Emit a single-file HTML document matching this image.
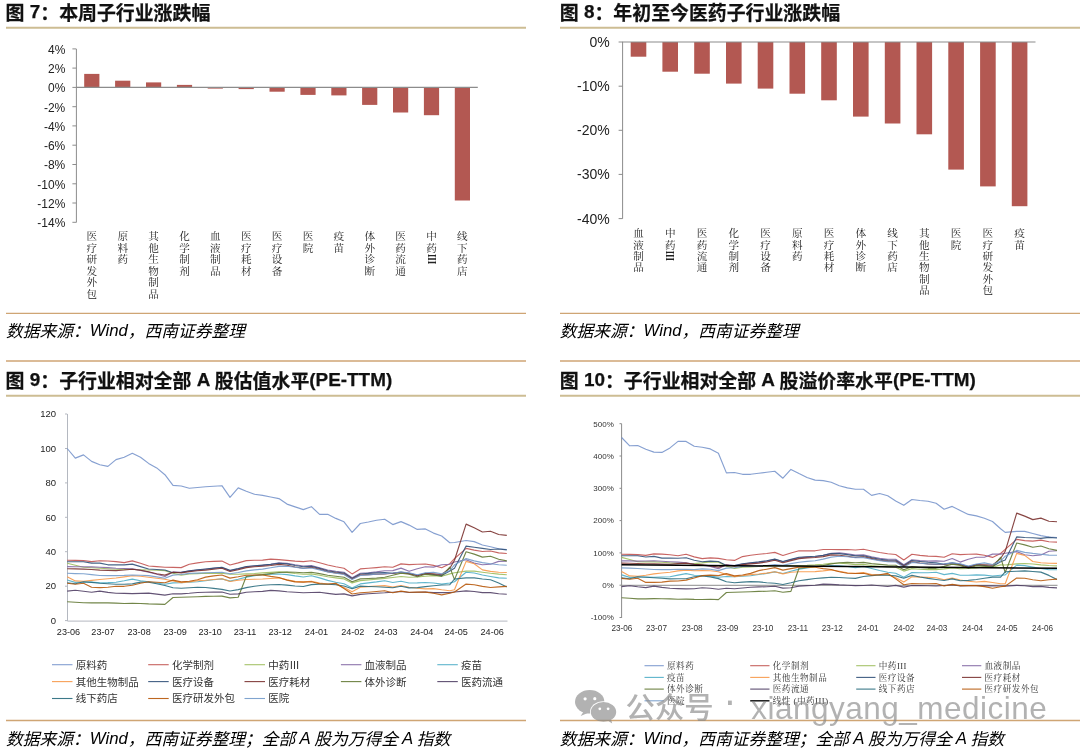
<!DOCTYPE html>
<html lang="zh-CN">
<head>
<meta charset="utf-8">
<title>医药子行业涨跌幅与估值</title>
<style>
html,body{margin:0;padding:0;background:#fff;}
body{width:1080px;height:751px;overflow:hidden;position:relative;font-family:"Liberation Sans","Noto Sans CJK SC",sans-serif;color:#000;}
#page{position:absolute;left:0;top:0;width:1080px;height:751px;overflow:hidden;background:#fff;}
.fig{position:absolute;margin:0;}
.title{position:absolute;margin:0;white-space:nowrap;font-weight:bold;-webkit-text-stroke:0.25px #111;font-size:18.9px;line-height:24px;color:#111;letter-spacing:0;}
.source{position:absolute;margin:0;white-space:nowrap;font-style:italic;font-size:16.75px;line-height:22px;color:#000;font-weight:400;}
.title .l{position:relative;top:-1.4px;}
.source .l{position:relative;top:-1px;}
svg{position:absolute;left:0;top:0;overflow:visible;will-change:transform;}
.fig{will-change:transform;}
svg text{font-family:"Liberation Sans","Noto Sans CJK SC",sans-serif;}
svg .kai{font-family:"Liberation Serif","Noto Serif CJK SC",serif;}
</style>
</head>
<body>
<div id="page">

<section class="fig" id="fig7">
<h2 class="title" style="left:5.6px;top:1.6px">图 <span class="l">7</span>：本周子行业涨跌幅</h2>
<p class="source" style="left:6px;top:320.8px">数据来源：<span class="l">Wind</span>，西南证券整理</p>
</section>
<section class="fig" id="fig8">
<h2 class="title" style="left:559.8px;top:1.6px">图 <span class="l">8</span>：年初至今医药子行业涨跌幅</h2>
<p class="source" style="left:559.8px;top:320.8px">数据来源：<span class="l">Wind</span>，西南证券整理</p>
</section>
<section class="fig" id="fig9">
<h2 class="title" style="left:5.6px;top:369.7px">图 <span class="l">9</span>：子行业相对全部 <span class="l">A</span> 股估值水平<span class="l">(PE-TTM)</span></h2>
<p class="source" style="left:6px;top:729.0px;word-spacing:-0.5px">数据来源：<span class="l">Wind</span>，西南证券整理；全部 <span class="l">A</span> 股为万得全 <span class="l">A</span> 指数</p>
</section>
<section class="fig" id="fig10">
<h2 class="title" style="left:559.8px;top:369.7px">图 <span class="l">10</span>：子行业相对全部 <span class="l">A</span> 股溢价率水平<span class="l">(PE-TTM)</span></h2>
<p class="source" style="left:559.8px;top:729.0px;word-spacing:-0.5px">数据来源：<span class="l">Wind</span>，西南证券整理；全部 <span class="l">A</span> 股为万得全 <span class="l">A</span> 指数</p>
</section>
<svg width="1080" height="751" viewBox="0 0 1080 751">
<g id="rules">
<path d="M6 27.8h520" stroke="#cdbd93" stroke-width="1.9"/>
<path d="M6 313.3h520" stroke="#cfa574" stroke-width="1.3"/>
<path d="M560 27.8h520" stroke="#cdbd93" stroke-width="1.9"/>
<path d="M560 313.3h520" stroke="#cfa574" stroke-width="1.3"/>
<path d="M6 361.0h520" stroke="#cfa574" stroke-width="1.3"/>
<path d="M6 395.7h520" stroke="#cdbd93" stroke-width="1.9"/>
<path d="M6 720.5h520" stroke="#cfa574" stroke-width="1.3"/>
<path d="M560 361.0h520" stroke="#cfa574" stroke-width="1.3"/>
<path d="M560 395.7h520" stroke="#cdbd93" stroke-width="1.9"/>
<path d="M560 720.5h520" stroke="#cfa574" stroke-width="1.3"/>
</g>
<g id="chart7">
<path d="M76.4 49V222.4" stroke="#8c8c8c" stroke-width="1" fill="none"/>
<path d="M72.4 48.9H76.4M72.4 68.1H76.4M72.4 87.4H76.4M72.4 106.7H76.4M72.4 125.9H76.4M72.4 145.2H76.4M72.4 164.5H76.4M72.4 183.8H76.4M72.4 203H76.4M72.4 222.3H76.4" stroke="#8c8c8c" stroke-width="1" fill="none"/>
<text x="65.3" y="53.8" font-size="12" text-anchor="end" fill="#222">4%</text>
<text x="65.3" y="73" font-size="12" text-anchor="end" fill="#222">2%</text>
<text x="65.3" y="92.3" font-size="12" text-anchor="end" fill="#222">0%</text>
<text x="65.3" y="111.6" font-size="12" text-anchor="end" fill="#222">-2%</text>
<text x="65.3" y="130.8" font-size="12" text-anchor="end" fill="#222">-4%</text>
<text x="65.3" y="150.1" font-size="12" text-anchor="end" fill="#222">-6%</text>
<text x="65.3" y="169.4" font-size="12" text-anchor="end" fill="#222">-8%</text>
<text x="65.3" y="188.7" font-size="12" text-anchor="end" fill="#222">-10%</text>
<text x="65.3" y="207.9" font-size="12" text-anchor="end" fill="#222">-12%</text>
<text x="65.3" y="227.2" font-size="12" text-anchor="end" fill="#222">-14%</text>
<rect x="84.2" y="73.9" width="15.2" height="13.5" fill="#b35852"/>
<rect x="115.1" y="80.7" width="15.2" height="6.7" fill="#b35852"/>
<rect x="146" y="82.4" width="15.2" height="5" fill="#b35852"/>
<rect x="176.9" y="84.9" width="15.2" height="2.5" fill="#b35852"/>
<rect x="207.7" y="87.4" width="15.2" height="1.2" fill="#b35852"/>
<rect x="238.6" y="87.4" width="15.2" height="1.7" fill="#b35852"/>
<rect x="269.5" y="87.4" width="15.2" height="4.3" fill="#b35852"/>
<rect x="300.4" y="87.4" width="15.2" height="7.5" fill="#b35852"/>
<rect x="331.3" y="87.4" width="15.2" height="8" fill="#b35852"/>
<rect x="362.1" y="87.4" width="15.2" height="17.5" fill="#b35852"/>
<rect x="393" y="87.4" width="15.2" height="25.1" fill="#b35852"/>
<rect x="423.9" y="87.4" width="15.2" height="27.8" fill="#b35852"/>
<rect x="454.8" y="87.4" width="15.2" height="113.1" fill="#b35852"/>
<path d="M75.9 87.4H477.8" stroke="#8c8c8c" stroke-width="1.2" fill="none"/>
<g><text class="kai" font-size="10.6" fill="#222" text-anchor="middle" x="91.8" y="240.1">医</text><text class="kai" font-size="10.6" fill="#222" text-anchor="middle" x="91.8" y="251.6">疗</text><text class="kai" font-size="10.6" fill="#222" text-anchor="middle" x="91.8" y="263.1">研</text><text class="kai" font-size="10.6" fill="#222" text-anchor="middle" x="91.8" y="274.6">发</text><text class="kai" font-size="10.6" fill="#222" text-anchor="middle" x="91.8" y="286.1">外</text><text class="kai" font-size="10.6" fill="#222" text-anchor="middle" x="91.8" y="297.6">包</text></g>
<g><text class="kai" font-size="10.6" fill="#222" text-anchor="middle" x="122.7" y="240.1">原</text><text class="kai" font-size="10.6" fill="#222" text-anchor="middle" x="122.7" y="251.6">料</text><text class="kai" font-size="10.6" fill="#222" text-anchor="middle" x="122.7" y="263.1">药</text></g>
<g><text class="kai" font-size="10.6" fill="#222" text-anchor="middle" x="153.6" y="240.1">其</text><text class="kai" font-size="10.6" fill="#222" text-anchor="middle" x="153.6" y="251.6">他</text><text class="kai" font-size="10.6" fill="#222" text-anchor="middle" x="153.6" y="263.1">生</text><text class="kai" font-size="10.6" fill="#222" text-anchor="middle" x="153.6" y="274.6">物</text><text class="kai" font-size="10.6" fill="#222" text-anchor="middle" x="153.6" y="286.1">制</text><text class="kai" font-size="10.6" fill="#222" text-anchor="middle" x="153.6" y="297.6">品</text></g>
<g><text class="kai" font-size="10.6" fill="#222" text-anchor="middle" x="184.5" y="240.1">化</text><text class="kai" font-size="10.6" fill="#222" text-anchor="middle" x="184.5" y="251.6">学</text><text class="kai" font-size="10.6" fill="#222" text-anchor="middle" x="184.5" y="263.1">制</text><text class="kai" font-size="10.6" fill="#222" text-anchor="middle" x="184.5" y="274.6">剂</text></g>
<g><text class="kai" font-size="10.6" fill="#222" text-anchor="middle" x="215.3" y="240.1">血</text><text class="kai" font-size="10.6" fill="#222" text-anchor="middle" x="215.3" y="251.6">液</text><text class="kai" font-size="10.6" fill="#222" text-anchor="middle" x="215.3" y="263.1">制</text><text class="kai" font-size="10.6" fill="#222" text-anchor="middle" x="215.3" y="274.6">品</text></g>
<g><text class="kai" font-size="10.6" fill="#222" text-anchor="middle" x="246.2" y="240.1">医</text><text class="kai" font-size="10.6" fill="#222" text-anchor="middle" x="246.2" y="251.6">疗</text><text class="kai" font-size="10.6" fill="#222" text-anchor="middle" x="246.2" y="263.1">耗</text><text class="kai" font-size="10.6" fill="#222" text-anchor="middle" x="246.2" y="274.6">材</text></g>
<g><text class="kai" font-size="10.6" fill="#222" text-anchor="middle" x="277.1" y="240.1">医</text><text class="kai" font-size="10.6" fill="#222" text-anchor="middle" x="277.1" y="251.6">疗</text><text class="kai" font-size="10.6" fill="#222" text-anchor="middle" x="277.1" y="263.1">设</text><text class="kai" font-size="10.6" fill="#222" text-anchor="middle" x="277.1" y="274.6">备</text></g>
<g><text class="kai" font-size="10.6" fill="#222" text-anchor="middle" x="308" y="240.1">医</text><text class="kai" font-size="10.6" fill="#222" text-anchor="middle" x="308" y="251.6">院</text></g>
<g><text class="kai" font-size="10.6" fill="#222" text-anchor="middle" x="338.9" y="240.1">疫</text><text class="kai" font-size="10.6" fill="#222" text-anchor="middle" x="338.9" y="251.6">苗</text></g>
<g><text class="kai" font-size="10.6" fill="#222" text-anchor="middle" x="369.7" y="240.1">体</text><text class="kai" font-size="10.6" fill="#222" text-anchor="middle" x="369.7" y="251.6">外</text><text class="kai" font-size="10.6" fill="#222" text-anchor="middle" x="369.7" y="263.1">诊</text><text class="kai" font-size="10.6" fill="#222" text-anchor="middle" x="369.7" y="274.6">断</text></g>
<g><text class="kai" font-size="10.6" fill="#222" text-anchor="middle" x="400.6" y="240.1">医</text><text class="kai" font-size="10.6" fill="#222" text-anchor="middle" x="400.6" y="251.6">药</text><text class="kai" font-size="10.6" fill="#222" text-anchor="middle" x="400.6" y="263.1">流</text><text class="kai" font-size="10.6" fill="#222" text-anchor="middle" x="400.6" y="274.6">通</text></g>
<g><text class="kai" font-size="10.6" fill="#222" text-anchor="middle" x="431.5" y="240.1">中</text><text class="kai" font-size="10.6" fill="#222" text-anchor="middle" x="431.5" y="251.6">药</text><text class="kai" font-size="10.6" font-weight="bold" fill="#222" text-anchor="middle" transform="translate(431.5 259.1) rotate(90)" y="3.8">Ⅲ</text></g>
<g><text class="kai" font-size="10.6" fill="#222" text-anchor="middle" x="462.4" y="240.1">线</text><text class="kai" font-size="10.6" fill="#222" text-anchor="middle" x="462.4" y="251.6">下</text><text class="kai" font-size="10.6" fill="#222" text-anchor="middle" x="462.4" y="263.1">药</text><text class="kai" font-size="10.6" fill="#222" text-anchor="middle" x="462.4" y="274.6">店</text></g>
</g>
<g id="chart8">
<path d="M622.6 42.0V218.7" stroke="#8c8c8c" stroke-width="1" fill="none"/>
<path d="M618.6 42H622.6M618.6 86.2H622.6M618.6 130.3H622.6M618.6 174.4H622.6M618.6 218.6H622.6" stroke="#8c8c8c" stroke-width="1" fill="none"/>
<text x="609.8" y="47" font-size="14" text-anchor="end" fill="#222">0%</text>
<text x="609.8" y="91.2" font-size="14" text-anchor="end" fill="#222">-10%</text>
<text x="609.8" y="135.3" font-size="14" text-anchor="end" fill="#222">-20%</text>
<text x="609.8" y="179.4" font-size="14" text-anchor="end" fill="#222">-30%</text>
<text x="609.8" y="223.6" font-size="14" text-anchor="end" fill="#222">-40%</text>
<rect x="630.7" y="42" width="15.6" height="14.7" fill="#b35852"/>
<rect x="662.4" y="42" width="15.6" height="29.7" fill="#b35852"/>
<rect x="694.2" y="42" width="15.6" height="31.7" fill="#b35852"/>
<rect x="726" y="42" width="15.6" height="41.6" fill="#b35852"/>
<rect x="757.7" y="42" width="15.6" height="46.6" fill="#b35852"/>
<rect x="789.5" y="42" width="15.6" height="51.7" fill="#b35852"/>
<rect x="821.2" y="42" width="15.6" height="58.3" fill="#b35852"/>
<rect x="853" y="42" width="15.6" height="74.6" fill="#b35852"/>
<rect x="884.8" y="42" width="15.6" height="81.5" fill="#b35852"/>
<rect x="916.5" y="42" width="15.6" height="92.3" fill="#b35852"/>
<rect x="948.3" y="42" width="15.6" height="127.6" fill="#b35852"/>
<rect x="980.1" y="42" width="15.6" height="144.4" fill="#b35852"/>
<rect x="1011.8" y="42" width="15.6" height="164.2" fill="#b35852"/>
<path d="M622.1 42.0H1035.5" stroke="#8c8c8c" stroke-width="1.2" fill="none"/>
<g><text class="kai" font-size="10.6" fill="#222" text-anchor="middle" x="638.5" y="237.1">血</text><text class="kai" font-size="10.6" fill="#222" text-anchor="middle" x="638.5" y="248.5">液</text><text class="kai" font-size="10.6" fill="#222" text-anchor="middle" x="638.5" y="259.9">制</text><text class="kai" font-size="10.6" fill="#222" text-anchor="middle" x="638.5" y="271.3">品</text></g>
<g><text class="kai" font-size="10.6" fill="#222" text-anchor="middle" x="670.2" y="237.1">中</text><text class="kai" font-size="10.6" fill="#222" text-anchor="middle" x="670.2" y="248.5">药</text><text class="kai" font-size="10.6" font-weight="bold" fill="#222" text-anchor="middle" transform="translate(670.2 255.9) rotate(90)" y="3.8">Ⅲ</text></g>
<g><text class="kai" font-size="10.6" fill="#222" text-anchor="middle" x="702" y="237.1">医</text><text class="kai" font-size="10.6" fill="#222" text-anchor="middle" x="702" y="248.5">药</text><text class="kai" font-size="10.6" fill="#222" text-anchor="middle" x="702" y="259.9">流</text><text class="kai" font-size="10.6" fill="#222" text-anchor="middle" x="702" y="271.3">通</text></g>
<g><text class="kai" font-size="10.6" fill="#222" text-anchor="middle" x="733.8" y="237.1">化</text><text class="kai" font-size="10.6" fill="#222" text-anchor="middle" x="733.8" y="248.5">学</text><text class="kai" font-size="10.6" fill="#222" text-anchor="middle" x="733.8" y="259.9">制</text><text class="kai" font-size="10.6" fill="#222" text-anchor="middle" x="733.8" y="271.3">剂</text></g>
<g><text class="kai" font-size="10.6" fill="#222" text-anchor="middle" x="765.5" y="237.1">医</text><text class="kai" font-size="10.6" fill="#222" text-anchor="middle" x="765.5" y="248.5">疗</text><text class="kai" font-size="10.6" fill="#222" text-anchor="middle" x="765.5" y="259.9">设</text><text class="kai" font-size="10.6" fill="#222" text-anchor="middle" x="765.5" y="271.3">备</text></g>
<g><text class="kai" font-size="10.6" fill="#222" text-anchor="middle" x="797.3" y="237.1">原</text><text class="kai" font-size="10.6" fill="#222" text-anchor="middle" x="797.3" y="248.5">料</text><text class="kai" font-size="10.6" fill="#222" text-anchor="middle" x="797.3" y="259.9">药</text></g>
<g><text class="kai" font-size="10.6" fill="#222" text-anchor="middle" x="829" y="237.1">医</text><text class="kai" font-size="10.6" fill="#222" text-anchor="middle" x="829" y="248.5">疗</text><text class="kai" font-size="10.6" fill="#222" text-anchor="middle" x="829" y="259.9">耗</text><text class="kai" font-size="10.6" fill="#222" text-anchor="middle" x="829" y="271.3">材</text></g>
<g><text class="kai" font-size="10.6" fill="#222" text-anchor="middle" x="860.8" y="237.1">体</text><text class="kai" font-size="10.6" fill="#222" text-anchor="middle" x="860.8" y="248.5">外</text><text class="kai" font-size="10.6" fill="#222" text-anchor="middle" x="860.8" y="259.9">诊</text><text class="kai" font-size="10.6" fill="#222" text-anchor="middle" x="860.8" y="271.3">断</text></g>
<g><text class="kai" font-size="10.6" fill="#222" text-anchor="middle" x="892.6" y="237.1">线</text><text class="kai" font-size="10.6" fill="#222" text-anchor="middle" x="892.6" y="248.5">下</text><text class="kai" font-size="10.6" fill="#222" text-anchor="middle" x="892.6" y="259.9">药</text><text class="kai" font-size="10.6" fill="#222" text-anchor="middle" x="892.6" y="271.3">店</text></g>
<g><text class="kai" font-size="10.6" fill="#222" text-anchor="middle" x="924.3" y="237.1">其</text><text class="kai" font-size="10.6" fill="#222" text-anchor="middle" x="924.3" y="248.5">他</text><text class="kai" font-size="10.6" fill="#222" text-anchor="middle" x="924.3" y="259.9">生</text><text class="kai" font-size="10.6" fill="#222" text-anchor="middle" x="924.3" y="271.3">物</text><text class="kai" font-size="10.6" fill="#222" text-anchor="middle" x="924.3" y="282.7">制</text><text class="kai" font-size="10.6" fill="#222" text-anchor="middle" x="924.3" y="294.1">品</text></g>
<g><text class="kai" font-size="10.6" fill="#222" text-anchor="middle" x="956.1" y="237.1">医</text><text class="kai" font-size="10.6" fill="#222" text-anchor="middle" x="956.1" y="248.5">院</text></g>
<g><text class="kai" font-size="10.6" fill="#222" text-anchor="middle" x="987.9" y="237.1">医</text><text class="kai" font-size="10.6" fill="#222" text-anchor="middle" x="987.9" y="248.5">疗</text><text class="kai" font-size="10.6" fill="#222" text-anchor="middle" x="987.9" y="259.9">研</text><text class="kai" font-size="10.6" fill="#222" text-anchor="middle" x="987.9" y="271.3">发</text><text class="kai" font-size="10.6" fill="#222" text-anchor="middle" x="987.9" y="282.7">外</text><text class="kai" font-size="10.6" fill="#222" text-anchor="middle" x="987.9" y="294.1">包</text></g>
<g><text class="kai" font-size="10.6" fill="#222" text-anchor="middle" x="1019.6" y="237.1">疫</text><text class="kai" font-size="10.6" fill="#222" text-anchor="middle" x="1019.6" y="248.5">苗</text></g>
</g>
<g id="chart9">
<path d="M67.5 414V621.1H507.5" stroke="#b4b8c0" stroke-width="1" fill="none"/>
<path d="M65 620.6H67.2M65 586.2H67.2M65 551.7H67.2M65 517.3H67.2M65 482.9H67.2M65 448.5H67.2M65 414H67.2" stroke="#b4b8c0" stroke-width="1" fill="none"/>
<text x="56" y="623.8" font-size="9.5" text-anchor="end" fill="#222">0</text>
<text x="56" y="589.4" font-size="9.5" text-anchor="end" fill="#222">20</text>
<text x="56" y="554.9" font-size="9.5" text-anchor="end" fill="#222">40</text>
<text x="56" y="520.5" font-size="9.5" text-anchor="end" fill="#222">60</text>
<text x="56" y="486.1" font-size="9.5" text-anchor="end" fill="#222">80</text>
<text x="56" y="451.7" font-size="9.5" text-anchor="end" fill="#222">100</text>
<text x="56" y="417.2" font-size="9.5" text-anchor="end" fill="#222">120</text>
<text x="68.5" y="635.2" font-size="9.1" text-anchor="middle" fill="#222">23-06</text>
<text x="103" y="635.2" font-size="9.1" text-anchor="middle" fill="#222">23-07</text>
<text x="139.1" y="635.2" font-size="9.1" text-anchor="middle" fill="#222">23-08</text>
<text x="175.2" y="635.2" font-size="9.1" text-anchor="middle" fill="#222">23-09</text>
<text x="210.2" y="635.2" font-size="9.1" text-anchor="middle" fill="#222">23-10</text>
<text x="245" y="635.2" font-size="9.1" text-anchor="middle" fill="#222">23-11</text>
<text x="280.2" y="635.2" font-size="9.1" text-anchor="middle" fill="#222">23-12</text>
<text x="316.5" y="635.2" font-size="9.1" text-anchor="middle" fill="#222">24-01</text>
<text x="352.8" y="635.2" font-size="9.1" text-anchor="middle" fill="#222">24-02</text>
<text x="386" y="635.2" font-size="9.1" text-anchor="middle" fill="#222">24-03</text>
<text x="421.8" y="635.2" font-size="9.1" text-anchor="middle" fill="#222">24-04</text>
<text x="456.2" y="635.2" font-size="9.1" text-anchor="middle" fill="#222">24-05</text>
<text x="492.2" y="635.2" font-size="9.1" text-anchor="middle" fill="#222">24-06</text>
<path d="M67.2 448.5L75.3 458.1L83.5 454.9L91.6 461.4L99.8 464.7L107.9 466.4L116 459.6L124.2 457.2L132.3 453.3L140.5 457.2L148.6 463.4L156.7 467.9L164.9 474.7L173 485.4L181.2 486L189.3 488.3L197.5 487.5L205.6 486.8L213.7 486.3L221.9 485.7L230 497.3L238.2 487.9L246.3 491.2L254.4 494.2L262.6 495.4L270.7 497L278.9 498.6L287 504.1L295.1 506.9L303.3 509.6L311.4 506.7L319.6 514.3L327.7 514.3L335.8 518.4L344 521.8L352.1 532.3L360.3 523.5L368.4 522L376.5 520.3L384.7 519.2L392.8 524.6L401 521.6L409.1 525.1L417.3 529.4L425.4 528.9L433.5 533.1L441.7 536L449.8 542.7L454.5 542.5L466.1 540.5L474.2 541.6L482.4 545L490.5 546.7L498.7 548.8L506.8 549.5" stroke="#7593cb" stroke-width="1.15" fill="none" stroke-linejoin="round" stroke-opacity="0.88"/>
<path d="M67.2 560.3L75.3 560.4L83.5 560.6L91.6 561.6L99.8 560.7L107.9 561L116 561.6L124.2 562.6L132.3 560.9L140.5 563.3L148.6 566L156.7 566.6L164.9 567.2L173 567.4L181.2 567.6L189.3 564.2L197.5 562.9L205.6 561.8L213.7 561.4L221.9 561.1L230 565L238.2 562.9L246.3 560.6L254.4 560.3L262.6 560.1L270.7 559.1L278.9 559.6L287 560.4L295.1 561.1L303.3 561.6L311.4 560.7L319.6 562.7L327.7 565L335.8 566.7L344 568.2L352.1 573.9L360.3 568.9L368.4 568.3L376.5 567.6L384.7 566.8L392.8 567.2L401 563.9L409.1 564.6L417.3 564.2L425.4 564L433.5 565.4L441.7 567.7L449.8 563.7L454.5 558.6L466.1 548.4L474.2 550.1L482.4 551.5L490.5 551L498.7 552.9L506.8 553.5" stroke="#C0504D" stroke-width="1.15" fill="none" stroke-linejoin="round" stroke-opacity="0.88"/>
<path d="M67.2 563.3L75.3 565.3L83.5 567.3L91.6 567.7L99.8 568.2L107.9 568.7L116 569.3L124.2 569.4L132.3 569.4L140.5 569.7L148.6 570L156.7 570.3L164.9 570.6L173 573.2L181.2 575.1L189.3 574L197.5 573.6L205.6 573.3L213.7 573.3L221.9 573.3L230 574.3L238.2 574.2L246.3 573.9L254.4 573.5L262.6 572.9L270.7 572.4L278.9 571.8L287 572.4L295.1 573.5L303.3 574.3L311.4 573.9L319.6 575.3L327.7 576.8L335.8 577.9L344 578.9L352.1 582.9L360.3 580.6L368.4 579.9L376.5 579.2L384.7 578.4L392.8 577.5L401 576.5L409.1 577.3L417.3 577L425.4 576.3L433.5 575.6L441.7 576.2L449.8 573.9L454.5 572.8L466.1 571.1L474.2 571.1L482.4 572.2L490.5 573.3L498.7 574.1L506.8 574.7" stroke="#9BBB59" stroke-width="1.15" fill="none" stroke-linejoin="round" stroke-opacity="0.88"/>
<path d="M67.2 566.6L75.3 566.7L83.5 566.7L91.6 566.9L99.8 567.2L107.9 567.6L116 568.2L124.2 568.5L132.3 568.9L140.5 570.4L148.6 572.1L156.7 574.3L164.9 576.5L173 571.9L181.2 572.4L189.3 571L197.5 570.1L205.6 569.3L213.7 568.4L221.9 567.5L230 570.7L238.2 568.9L246.3 566.8L254.4 566L262.6 565.4L270.7 564.3L278.9 562.9L287 563.4L295.1 564.8L303.3 566L311.4 565.6L319.6 567.7L327.7 570L335.8 571.2L344 572.2L352.1 577.8L360.3 573.3L368.4 572.7L376.5 571.9L384.7 570.7L392.8 570.6L401 568.1L409.1 571.3L417.3 568.7L425.4 566.7L433.5 567.1L441.7 564.8L449.8 564.3L454.5 562L466.1 559.7L474.2 563.1L482.4 564.8L490.5 564.3L498.7 561.4L506.8 561.2" stroke="#8064A2" stroke-width="1.15" fill="none" stroke-linejoin="round" stroke-opacity="0.88"/>
<path d="M67.2 580L75.3 582.4L83.5 582L91.6 582.1L99.8 582.7L107.9 582.6L116 582.3L124.2 580.8L132.3 579.1L140.5 580.7L148.6 581.7L156.7 583L164.9 584.3L173 582.9L181.2 582.8L189.3 582.3L197.5 581.8L205.6 580.8L213.7 579.8L221.9 578.9L230 581.1L238.2 579.3L246.3 577.1L254.4 575.8L262.6 574.7L270.7 574.2L278.9 574L287 574.6L295.1 575.9L303.3 577L311.4 575.7L319.6 577.9L327.7 580.4L335.8 582.2L344 583.8L352.1 587.9L360.3 583.9L368.4 582.9L376.5 581.9L384.7 580.7L392.8 582.5L401 581.3L409.1 583L417.3 582.9L425.4 582.5L433.5 583L441.7 584.1L449.8 583L454.5 581.8L466.1 572.2L474.2 573L482.4 575L490.5 576.5L498.7 577.9L506.8 578.2" stroke="#4BACC6" stroke-width="1.15" fill="none" stroke-linejoin="round" stroke-opacity="0.88"/>
<path d="M67.2 576.7L75.3 580.9L83.5 581.2L91.6 580.4L99.8 579.5L107.9 578.7L116 578L124.2 576.9L132.3 575.7L140.5 576.3L148.6 577.2L156.7 578.2L164.9 579.3L173 581L181.2 582.6L189.3 581.9L197.5 580.8L205.6 580.3L213.7 579.5L221.9 578.7L230 581.5L238.2 580.2L246.3 579.5L254.4 579.2L262.6 579L270.7 578.5L278.9 577.9L287 579.7L295.1 581.4L303.3 581.9L311.4 581.2L319.6 583.1L327.7 584.1L335.8 584.3L344 587.6L352.1 591.8L360.3 587.2L368.4 586.6L376.5 586L384.7 585.6L392.8 587.1L401 585.5L409.1 587.2L417.3 588.3L425.4 588.9L433.5 588.6L441.7 589.8L449.8 590.7L454.5 589.8L466.1 561.4L474.2 563.7L482.4 569.9L490.5 571.4L498.7 572.2L506.8 572.5" stroke="#F79646" stroke-width="1.15" fill="none" stroke-linejoin="round" stroke-opacity="0.88"/>
<path d="M67.2 561.7L75.3 561.7L83.5 561.7L91.6 563.1L99.8 563.1L107.9 564.8L116 564.8L124.2 564.9L132.3 564.1L140.5 566.6L148.6 569L156.7 569.5L164.9 570L173 572.7L181.2 572.3L189.3 570.7L197.5 569.8L205.6 569L213.7 568.1L221.9 567.2L230 570.4L238.2 568.6L246.3 566.5L254.4 565.7L262.6 565.1L270.7 564.4L278.9 563.2L287 563.9L295.1 565.5L303.3 566.7L311.4 566.3L319.6 568.4L327.7 570.7L335.8 572L344 573L352.1 578.5L360.3 574L368.4 573.4L376.5 572.9L384.7 572.5L392.8 573.4L401 572L409.1 573.2L417.3 575.3L425.4 573.4L433.5 574.5L441.7 575.6L449.8 571.1L454.5 568.2L466.1 546.1L474.2 547.3L482.4 548.4L490.5 549.5L498.7 549L506.8 549.9" stroke="#2C4D75" stroke-width="1.15" fill="none" stroke-linejoin="round" stroke-opacity="0.88"/>
<path d="M67.2 568.7L75.3 568.9L83.5 569.1L91.6 569.5L99.8 570.1L107.9 570.4L116 570.6L124.2 570L132.3 569.2L140.5 570.3L148.6 571.7L156.7 573.8L164.9 575.1L173 572.3L181.2 572.9L189.3 571.6L197.5 570.8L205.6 570.1L213.7 569.2L221.9 568.3L230 571.5L238.2 569.7L246.3 567.6L254.4 566.8L262.6 566.2L270.7 565.5L278.9 564.4L287 565.3L295.1 567L303.3 568.2L311.4 567.3L319.6 569.3L327.7 571.6L335.8 572.9L344 573.9L352.1 579L360.3 575L368.4 574.6L376.5 574.3L384.7 573.9L392.8 573.3L401 572.5L409.1 573.7L417.3 575.8L425.4 573.6L433.5 573.9L441.7 574.5L449.8 568.2L454.5 560.3L466.1 524.1L474.2 527.7L482.4 532L490.5 531.2L498.7 534.5L506.8 535.4" stroke="#772C2A" stroke-width="1.15" fill="none" stroke-linejoin="round" stroke-opacity="0.88"/>
<path d="M67.2 601.7L75.3 602.3L83.5 602.8L91.6 602.9L99.8 602.8L107.9 602.9L116 603.1L124.2 603.5L132.3 603.2L140.5 603.5L148.6 603.9L156.7 604.1L164.9 604.4L173 597.5L181.2 597.2L189.3 597L197.5 596.7L205.6 596.4L213.7 596.3L221.9 596.1L230 597.9L238.2 597.2L246.3 576.4L254.4 575.3L262.6 574.6L270.7 573.6L278.9 572.5L287 572.1L295.1 572.3L303.3 572.7L311.4 572.2L319.6 573.6L327.7 575.2L335.8 576.2L344 577.2L352.1 581.8L360.3 578.9L368.4 578.5L376.5 578.1L384.7 577.3L392.8 575.3L401 573.1L409.1 574.2L417.3 576.7L425.4 574.2L433.5 575L441.7 576.2L449.8 567.1L454.5 579.6L466.1 551.8L474.2 554.1L482.4 557.1L490.5 556.3L498.7 559.2L506.8 560.9" stroke="#5F7530" stroke-width="1.15" fill="none" stroke-linejoin="round" stroke-opacity="0.88"/>
<path d="M67.2 591.1L75.3 590.3L83.5 591.3L91.6 592.2L99.8 591.1L107.9 592.4L116 593.2L124.2 593.4L132.3 593.6L140.5 593.4L148.6 593.1L156.7 594.1L164.9 595.1L173 593.7L181.2 593.9L189.3 593.3L197.5 592.5L205.6 592.2L213.7 592.1L221.9 592L230 594.2L238.2 593.9L246.3 592.3L254.4 591.7L262.6 591.4L270.7 590.4L278.9 590.9L287 591.7L295.1 592.3L303.3 592.8L311.4 592.5L319.6 592.3L327.7 593.4L335.8 594.4L344 593.9L352.1 595.9L360.3 594.4L368.4 593.8L376.5 593.2L384.7 592.8L392.8 592.2L401 591.5L409.1 592.5L417.3 592.3L425.4 592L433.5 592.6L441.7 592.6L449.8 592.6L454.5 592L466.1 590.9L474.2 591.5L482.4 592.6L490.5 592.6L498.7 593.7L506.8 594.3" stroke="#4D3B62" stroke-width="1.15" fill="none" stroke-linejoin="round" stroke-opacity="0.88"/>
<path d="M67.2 582.8L75.3 583.7L83.5 581.8L91.6 582.4L99.8 583.2L107.9 583.7L116 584.3L124.2 584.2L132.3 583.9L140.5 582.1L148.6 582.2L156.7 583.8L164.9 585.5L173 587.7L181.2 588.2L189.3 587.8L197.5 587.3L205.6 587.5L213.7 588.4L221.9 589.4L230 591L238.2 589.6L246.3 587.6L254.4 586.3L262.6 585.2L270.7 584.8L278.9 584.5L287 585.1L295.1 586L303.3 586.5L311.4 584.6L319.6 584.1L327.7 584.2L335.8 584.8L344 586L352.1 588.7L360.3 586.1L368.4 586.5L376.5 586.8L384.7 587.2L392.8 587.8L401 586.2L409.1 587.9L417.3 587.6L425.4 586.6L433.5 585.8L441.7 585L449.8 584.7L454.5 579L466.1 577.9L474.2 577.9L482.4 579L490.5 579.8L498.7 583L506.8 586.9" stroke="#276A7C" stroke-width="1.15" fill="none" stroke-linejoin="round" stroke-opacity="0.88"/>
<path d="M67.2 583.3L75.3 584.2L83.5 583.2L91.6 587.3L99.8 587.6L107.9 587.3L116 586.3L124.2 586.3L132.3 585.2L140.5 583.2L148.6 581.7L156.7 582.2L164.9 582.8L173 580.1L181.2 581.9L189.3 581.2L197.5 579.7L205.6 577.1L213.7 575.9L221.9 575L230 578.1L238.2 576.8L246.3 575.3L254.4 575L262.6 575L270.7 576.4L278.9 577.5L287 580.1L295.1 581.9L303.3 582.1L311.4 581.7L319.6 583.7L327.7 584L335.8 583.3L344 588.5L352.1 594L360.3 592.8L368.4 592.2L376.5 591.5L384.7 590.7L392.8 592.7L401 591.1L409.1 592.2L417.3 592.1L425.4 592.1L433.5 593.2L441.7 594.9L449.8 593.2L454.5 592L466.1 584.1L474.2 584.7L482.4 586.4L490.5 587.5L498.7 586.9L506.8 586.4" stroke="#B65708" stroke-width="1.15" fill="none" stroke-linejoin="round" stroke-opacity="0.88"/>
<path d="M67.2 573.3L75.3 573.6L83.5 573.8L91.6 574.6L99.8 575.5L107.9 575.6L116 575.6L124.2 575.4L132.3 575L140.5 575.3L148.6 575.6L156.7 576.9L164.9 578.2L173 575.1L181.2 574.5L189.3 573.4L197.5 573.1L205.6 572.8L213.7 572.5L221.9 572.2L230 573.8L238.2 572.5L246.3 570.9L254.4 569.9L262.6 569.1L270.7 567.8L278.9 566.4L287 566.3L295.1 567.3L303.3 568.4L311.4 568L319.6 569.9L327.7 571.9L335.8 573.3L344 574.4L352.1 579.6L360.3 575.5L368.4 574.9L376.5 574.3L384.7 573.6L392.8 573L401 572L409.1 572.8L417.3 574.8L425.4 572.8L433.5 572.2L441.7 573.9L449.8 570.5L454.5 564.8L466.1 558.6L474.2 560.9L482.4 562.6L490.5 563.7L498.7 564.8L506.8 565.2" stroke="#729ACA" stroke-width="1.15" fill="none" stroke-linejoin="round" stroke-opacity="0.88"/>
<path d="M52 664.7h20.5" stroke="#7593cb" stroke-width="1.1" stroke-opacity="0.9"/>
<text x="75.7" y="668.6" font-size="10.5" fill="#333">原料药</text>
<path d="M148.2 664.7h20.5" stroke="#C0504D" stroke-width="1.1" stroke-opacity="0.9"/>
<text x="171.9" y="668.6" font-size="10.5" fill="#333">化学制剂</text>
<path d="M244.5 664.7h20.5" stroke="#9BBB59" stroke-width="1.1" stroke-opacity="0.9"/>
<text x="268.2" y="668.6" font-size="10.5" fill="#333">中药Ⅲ</text>
<path d="M340.9 664.7h20.5" stroke="#8064A2" stroke-width="1.1" stroke-opacity="0.9"/>
<text x="364.6" y="668.6" font-size="10.5" fill="#333">血液制品</text>
<path d="M437.3 664.7h20.5" stroke="#4BACC6" stroke-width="1.1" stroke-opacity="0.9"/>
<text x="461" y="668.6" font-size="10.5" fill="#333">疫苗</text>
<path d="M52 681.6h20.5" stroke="#F79646" stroke-width="1.1" stroke-opacity="0.9"/>
<text x="75.7" y="685.5" font-size="10.5" fill="#333">其他生物制品</text>
<path d="M148.2 681.6h20.5" stroke="#2C4D75" stroke-width="1.1" stroke-opacity="0.9"/>
<text x="171.9" y="685.5" font-size="10.5" fill="#333">医疗设备</text>
<path d="M244.5 681.6h20.5" stroke="#772C2A" stroke-width="1.1" stroke-opacity="0.9"/>
<text x="268.2" y="685.5" font-size="10.5" fill="#333">医疗耗材</text>
<path d="M340.9 681.6h20.5" stroke="#5F7530" stroke-width="1.1" stroke-opacity="0.9"/>
<text x="364.6" y="685.5" font-size="10.5" fill="#333">体外诊断</text>
<path d="M437.3 681.6h20.5" stroke="#4D3B62" stroke-width="1.1" stroke-opacity="0.9"/>
<text x="461" y="685.5" font-size="10.5" fill="#333">医药流通</text>
<path d="M52 698.5h20.5" stroke="#276A7C" stroke-width="1.1" stroke-opacity="0.9"/>
<text x="75.7" y="702.4" font-size="10.5" fill="#333">线下药店</text>
<path d="M148.2 698.5h20.5" stroke="#B65708" stroke-width="1.1" stroke-opacity="0.9"/>
<text x="171.9" y="702.4" font-size="10.5" fill="#333">医疗研发外包</text>
<path d="M244.5 698.5h20.5" stroke="#729ACA" stroke-width="1.1" stroke-opacity="0.9"/>
<text x="268.2" y="702.4" font-size="10.5" fill="#333">医院</text>
</g>
<g id="chart10">
<path d="M621.6 423.7V618" stroke="#8c8c8c" stroke-width="1" fill="none"/>
<path d="M621.6 585.3H1057.5" stroke="#8c8c8c" stroke-width="1" fill="none"/>
<path d="M619.5 423.7H621.6M619.5 456H621.6M619.5 488.3H621.6M619.5 520.6H621.6M619.5 552.9H621.6M619.5 585.2H621.6M619.5 617.5H621.6" stroke="#8c8c8c" stroke-width="1" fill="none"/>
<text x="613.8" y="426.5" font-size="8" text-anchor="end" fill="#333">500%</text>
<text x="613.8" y="458.8" font-size="8" text-anchor="end" fill="#333">400%</text>
<text x="613.8" y="491.1" font-size="8" text-anchor="end" fill="#333">300%</text>
<text x="613.8" y="523.4" font-size="8" text-anchor="end" fill="#333">200%</text>
<text x="613.8" y="555.7" font-size="8" text-anchor="end" fill="#333">100%</text>
<text x="613.8" y="588" font-size="8" text-anchor="end" fill="#333">0%</text>
<text x="613.8" y="620.3" font-size="8" text-anchor="end" fill="#333">-100%</text>
<text x="621.9" y="630.7" font-size="8.2" text-anchor="middle" fill="#333">23-06</text>
<text x="656.5" y="630.7" font-size="8.2" text-anchor="middle" fill="#333">23-07</text>
<text x="692.2" y="630.7" font-size="8.2" text-anchor="middle" fill="#333">23-08</text>
<text x="727.8" y="630.7" font-size="8.2" text-anchor="middle" fill="#333">23-09</text>
<text x="762.9" y="630.7" font-size="8.2" text-anchor="middle" fill="#333">23-10</text>
<text x="797.9" y="630.7" font-size="8.2" text-anchor="middle" fill="#333">23-11</text>
<text x="832.3" y="630.7" font-size="8.2" text-anchor="middle" fill="#333">23-12</text>
<text x="868.1" y="630.7" font-size="8.2" text-anchor="middle" fill="#333">24-01</text>
<text x="903.9" y="630.7" font-size="8.2" text-anchor="middle" fill="#333">24-02</text>
<text x="936.9" y="630.7" font-size="8.2" text-anchor="middle" fill="#333">24-03</text>
<text x="972.7" y="630.7" font-size="8.2" text-anchor="middle" fill="#333">24-04</text>
<text x="1007.1" y="630.7" font-size="8.2" text-anchor="middle" fill="#333">24-05</text>
<text x="1042.6" y="630.7" font-size="8.2" text-anchor="middle" fill="#333">24-06</text>
<path d="M621.6 437.5L629.7 445.8L637.7 445.6L645.8 449.3L653.9 452.1L661.9 452.4L670 447.9L678 441.4L686.1 441.4L694.2 446.3L702.2 447.2L710.3 448.9L718.4 453.2L726.4 472.9L734.5 472.5L742.5 474.3L750.6 474.3L758.7 473.3L766.7 472.3L774.8 471.3L782.9 478.2L790.9 469.4L799 473.6L807 477.5L815.1 480.1L823.2 480.6L831.2 482.2L839.3 485.7L847.4 487.9L855.4 489.2L863.5 489.3L871.6 495.4L879.6 493.5L887.7 495.8L895.7 501.1L903.8 505.3L911.9 499.5L919.9 500.5L928 501.2L936.1 503.2L944.1 509.2L952.2 506.4L960.2 510.4L968.3 514.4L976.4 515.9L984.4 518.3L992.5 521.5L1000.6 528.7L1005.2 532.4L1016.7 531.4L1024.7 531.4L1032.8 533.5L1040.9 535.6L1048.9 537L1057 537.5" stroke="#7593cb" stroke-width="1.15" fill="none" stroke-linejoin="round" stroke-opacity="0.88"/>
<path d="M621.6 554.3L629.7 554.4L637.7 554.6L645.8 555.4L653.9 553.9L661.9 554.1L670 554.7L678 555.7L686.1 554.3L694.2 556.9L702.2 558.6L710.3 557.9L718.4 558.4L726.4 559.7L734.5 560.4L742.5 556.6L750.6 555.3L758.7 554.2L766.7 553.5L774.8 552.4L782.9 555.5L790.9 553L799 550.8L807 550.8L815.1 550.8L823.2 549.5L831.2 549.5L839.3 549.6L847.4 549.5L855.4 550L863.5 549.3L871.6 551L879.6 552.5L887.7 553.8L895.7 554.5L903.8 560L911.9 554.3L919.9 555.4L928 556.1L936.1 556.4L944.1 557.3L952.2 553.8L960.2 554.6L968.3 554.2L976.4 554.1L984.4 555.3L992.5 557.4L1000.6 553.5L1005.2 549.4L1016.7 539.4L1024.7 540.6L1032.8 541.1L1040.9 540.1L1048.9 541.8L1057 542.1" stroke="#C0504D" stroke-width="1.15" fill="none" stroke-linejoin="round" stroke-opacity="0.88"/>
<path d="M621.6 557.4L629.7 559.5L637.7 561.7L645.8 561.9L653.9 561.9L661.9 562.3L670 562.9L678 563L686.1 563.4L694.2 563.6L702.2 562.9L710.3 561.9L718.4 562.2L726.4 566.1L734.5 568.5L742.5 567.2L750.6 566.9L758.7 566.5L766.7 566.4L774.8 565.7L782.9 565.9L790.9 565.6L799 565.6L807 565.4L815.1 564.9L823.2 564.2L831.2 563.2L839.3 563.2L847.4 563.7L855.4 564.6L863.5 564.4L871.6 565.5L879.6 566.3L887.7 567L895.7 567.3L903.8 571.1L911.9 568.6L919.9 569.2L928 569.6L936.1 569.6L944.1 568.9L952.2 568L960.2 568.8L968.3 568.5L976.4 567.9L984.4 566.8L992.5 567.1L1000.6 564.9L1005.2 565L1016.7 563.9L1024.7 563.5L1032.8 564L1040.9 564.9L1048.9 565.5L1057 565.9" stroke="#9BBB59" stroke-width="1.15" fill="none" stroke-linejoin="round" stroke-opacity="0.88"/>
<path d="M621.6 560.9L629.7 560.9L637.7 561.1L645.8 561L653.9 560.7L661.9 561.2L670 561.7L678 562.1L686.1 562.8L694.2 564.4L702.2 565.2L710.3 566.4L718.4 568.7L726.4 564.6L734.5 565.6L742.5 564L750.6 563.1L758.7 562.2L766.7 561.1L774.8 559.4L782.9 561.8L790.9 559.7L799 557.7L807 557.1L815.1 556.7L823.2 555.2L831.2 553.2L839.3 552.9L847.4 553.8L855.4 555.1L863.5 554.9L871.6 556.8L879.6 558.4L887.7 559.2L895.7 559.2L903.8 564.8L911.9 559.7L919.9 560.6L928 561.1L936.1 560.9L944.1 561.2L952.2 558.5L960.2 562.1L968.3 559.2L976.4 557.2L984.4 557.2L992.5 554.1L1000.6 554.1L1005.2 553.2L1016.7 551.6L1024.7 554.8L1032.8 555.8L1040.9 554.9L1048.9 551.3L1057 550.7" stroke="#8064A2" stroke-width="1.15" fill="none" stroke-linejoin="round" stroke-opacity="0.88"/>
<path d="M621.6 574.9L629.7 577.4L637.7 577L645.8 577L653.9 577.2L661.9 577L670 576.7L678 575.1L686.1 573.6L694.2 575.3L702.2 575.5L710.3 575.9L718.4 577.3L726.4 576.5L734.5 576.8L742.5 576.2L750.6 575.7L758.7 574.5L766.7 573.4L774.8 571.9L782.9 573.5L790.9 571.3L799 569.1L807 567.9L815.1 566.8L823.2 566.2L831.2 565.5L839.3 565.7L847.4 566.5L855.4 567.6L863.5 566.4L871.6 568.5L879.6 570.5L887.7 572.2L895.7 573.2L903.8 577.3L911.9 572.6L919.9 572.8L928 572.7L936.1 572.2L944.1 574.6L952.2 573.4L960.2 575.2L968.3 575.2L976.4 574.9L984.4 575.1L992.5 576L1000.6 575.2L1005.2 574.9L1016.7 565.1L1024.7 565.6L1032.8 567.1L1040.9 568.5L1048.9 569.7L1057 569.8" stroke="#4BACC6" stroke-width="1.15" fill="none" stroke-linejoin="round" stroke-opacity="0.88"/>
<path d="M621.6 571.5L629.7 575.9L637.7 576.3L645.8 575.2L653.9 573.9L661.9 573L670 572.2L678 570.9L686.1 570.1L694.2 570.7L702.2 570.6L710.3 570.7L718.4 571.8L726.4 574.6L734.5 576.6L742.5 575.7L750.6 574.6L758.7 574L766.7 573.1L774.8 571.7L782.9 573.9L790.9 572.3L799 571.8L807 571.7L815.1 571.6L823.2 570.9L831.2 570L839.3 571.4L847.4 572.8L855.4 573.2L863.5 572.6L871.6 574.5L879.6 574.9L887.7 574.6L895.7 577.8L903.8 582.1L911.9 576.7L919.9 577.1L928 577.4L936.1 577.8L944.1 579.8L952.2 578.1L960.2 580L968.3 581.3L976.4 582L984.4 581.4L992.5 582.5L1000.6 583.8L1005.2 583.7L1016.7 553.4L1024.7 555.4L1032.8 561.5L1040.9 562.8L1048.9 563.3L1057 563.4" stroke="#F79646" stroke-width="1.15" fill="none" stroke-linejoin="round" stroke-opacity="0.88"/>
<path d="M621.6 555.7L629.7 555.7L637.7 555.8L645.8 557L653.9 556.4L661.9 558.1L670 558.1L678 558.2L686.1 557.7L694.2 560.3L702.2 561.8L710.3 561.1L718.4 561.5L726.4 565.5L734.5 565.5L742.5 563.7L750.6 562.8L758.7 561.9L766.7 560.8L774.8 559.1L782.9 561.5L790.9 559.4L799 557.3L807 556.7L815.1 556.3L823.2 555.4L831.2 553.6L839.3 553.6L847.4 554.6L855.4 555.9L863.5 555.7L871.6 557.6L879.6 559.2L887.7 560.1L895.7 560.2L903.8 565.6L911.9 560.6L919.9 561.5L928 562.3L936.1 562.9L944.1 564.4L952.2 562.9L960.2 564.2L968.3 566.6L976.4 564.6L984.4 565.5L992.5 566.4L1000.6 561.8L1005.2 560L1016.7 536.9L1024.7 537.5L1032.8 537.7L1040.9 538.4L1048.9 537.4L1057 538" stroke="#2C4D75" stroke-width="1.15" fill="none" stroke-linejoin="round" stroke-opacity="0.88"/>
<path d="M621.6 563.1L629.7 563.2L637.7 563.5L645.8 563.7L653.9 563.9L661.9 564.1L670 564.3L678 563.6L686.1 563.1L694.2 564.3L702.2 564.7L710.3 565.9L718.4 567.1L726.4 565.1L734.5 566.2L742.5 564.6L750.6 563.9L758.7 563.1L766.7 562L774.8 560.3L782.9 562.7L790.9 560.6L799 558.6L807 557.9L815.1 557.5L823.2 556.6L831.2 554.9L839.3 555.2L847.4 556.3L855.4 557.5L863.5 556.8L871.6 558.6L879.6 560.2L887.7 561.1L895.7 561.2L903.8 566.2L911.9 561.8L919.9 563L928 563.9L936.1 564.5L944.1 564.3L952.2 563.5L960.2 564.8L968.3 567.2L976.4 564.9L984.4 564.8L992.5 565.1L1000.6 558.5L1005.2 551.3L1016.7 513.1L1024.7 516.1L1032.8 519.6L1040.9 518.1L1048.9 521.2L1057 521.7" stroke="#772C2A" stroke-width="1.15" fill="none" stroke-linejoin="round" stroke-opacity="0.88"/>
<path d="M621.6 597.7L629.7 598.3L637.7 598.9L645.8 598.9L653.9 598.6L661.9 598.7L670 598.9L678 599.2L686.1 599.1L694.2 599.4L702.2 599.5L710.3 599.3L718.4 599.6L726.4 592.5L734.5 592.3L742.5 592L750.6 591.7L758.7 591.4L766.7 591.2L774.8 590.7L782.9 592.2L790.9 591.4L799 568.3L807 567.4L815.1 566.8L823.2 565.5L831.2 563.9L839.3 562.8L847.4 562.4L855.4 562.7L863.5 562.4L871.6 563.6L879.6 564.4L887.7 565.1L895.7 565.2L903.8 569.7L911.9 566.6L919.9 567.6L928 568.3L936.1 568.3L944.1 566.4L952.2 564.1L960.2 565.4L968.3 568.3L976.4 565.6L984.4 566.1L992.5 567.1L1000.6 557.3L1005.2 572.5L1016.7 543L1024.7 544.9L1032.8 547.3L1040.9 546L1048.9 548.8L1057 550.4" stroke="#5F7530" stroke-width="1.15" fill="none" stroke-linejoin="round" stroke-opacity="0.88"/>
<path d="M621.6 586.6L629.7 585.8L637.7 586.8L645.8 587.6L653.9 586.1L661.9 587.4L670 588.3L678 588.6L686.1 588.9L694.2 588.7L702.2 587.8L710.3 588.2L718.4 589.3L726.4 588.3L734.5 588.7L742.5 588L750.6 587.2L758.7 586.9L766.7 586.7L774.8 586.2L782.9 588.1L790.9 587.7L799 586.1L807 585.6L815.1 585.3L823.2 584.1L831.2 584.4L839.3 584.9L847.4 585.2L855.4 585.6L863.5 585.5L871.6 585L879.6 585.7L887.7 586.5L895.7 585.4L903.8 587.1L911.9 585.5L919.9 585.6L928 585.8L936.1 586L944.1 585.5L952.2 584.8L960.2 586L968.3 585.7L976.4 585.5L984.4 585.9L992.5 585.7L1000.6 586L1005.2 586.1L1016.7 585.4L1024.7 585.7L1032.8 586.6L1040.9 586.4L1048.9 587.4L1057 587.9" stroke="#4D3B62" stroke-width="1.15" fill="none" stroke-linejoin="round" stroke-opacity="0.88"/>
<path d="M621.6 577.9L629.7 578.8L637.7 576.8L645.8 577.3L653.9 577.8L661.9 578.3L670 578.9L678 578.7L686.1 578.7L694.2 576.8L702.2 576L710.3 576.9L718.4 578.6L726.4 581.8L734.5 582.7L742.5 582.1L750.6 581.6L758.7 581.9L766.7 582.7L774.8 583.3L782.9 584.5L790.9 582.8L799 580.8L807 579.6L815.1 578.5L823.2 577.9L831.2 577.3L839.3 577.5L847.4 578L855.4 578.4L863.5 576.5L871.6 575.6L879.6 575L887.7 575.2L895.7 575.9L903.8 578.2L911.9 575.4L919.9 577L928 578.4L936.1 579.5L944.1 580.5L952.2 578.9L960.2 580.7L968.3 580.4L976.4 579.5L984.4 578.3L992.5 577.1L1000.6 577.1L1005.2 571.8L1016.7 571.3L1024.7 570.9L1032.8 571.5L1040.9 572.1L1048.9 575.4L1057 579.6" stroke="#276A7C" stroke-width="1.15" fill="none" stroke-linejoin="round" stroke-opacity="0.88"/>
<path d="M621.6 578.4L629.7 579.3L637.7 578.3L645.8 582.4L653.9 582.4L661.9 582.1L670 581.1L678 581L686.1 580.1L694.2 578L702.2 575.6L710.3 575.1L718.4 575.6L726.4 573.6L734.5 575.9L742.5 575L750.6 573.4L758.7 570.6L766.7 569.2L774.8 567.6L782.9 570.1L790.9 568.6L799 567.1L807 567.1L815.1 567.2L823.2 568.6L831.2 569.5L839.3 571.8L847.4 573.3L855.4 573.5L863.5 573.2L871.6 575.2L879.6 574.8L887.7 573.4L895.7 578.9L903.8 584.7L911.9 583.5L919.9 583.7L928 583.8L936.1 583.5L944.1 586L952.2 584.4L960.2 585.6L968.3 585.5L976.4 585.6L984.4 586.6L992.5 588.3L1000.6 586.7L1005.2 586.1L1016.7 578L1024.7 578.3L1032.8 579.7L1040.9 580.7L1048.9 579.8L1057 579.1" stroke="#B65708" stroke-width="1.15" fill="none" stroke-linejoin="round" stroke-opacity="0.88"/>
<path d="M621.6 567.9L629.7 568.1L637.7 568.5L645.8 569L653.9 569.5L661.9 569.6L670 569.6L678 569.3L686.1 569.3L694.2 569.6L702.2 568.9L710.3 569.2L718.4 570.6L726.4 568.1L734.5 567.8L742.5 566.5L750.6 566.3L758.7 566L766.7 565.5L774.8 564.6L782.9 565.3L790.9 563.6L799 562.2L807 561.4L815.1 560.7L823.2 559.1L831.2 557.1L839.3 556.3L847.4 556.7L855.4 557.8L863.5 557.6L871.6 559.3L879.6 560.6L887.7 561.6L895.7 562L903.8 566.9L911.9 562.4L919.9 563.3L928 563.9L936.1 564.1L944.1 563.9L952.2 562.9L960.2 563.8L968.3 566.1L976.4 564L984.4 562.9L992.5 564.5L1000.6 561.1L1005.2 556.2L1016.7 550.4L1024.7 552.4L1032.8 553.4L1040.9 554.2L1048.9 555.1L1057 555.2" stroke="#729ACA" stroke-width="1.15" fill="none" stroke-linejoin="round" stroke-opacity="0.88"/>
<path d="M621.6 564.7L1057 568.3" stroke="#000" stroke-width="1.5" fill="none"/>
<path d="M644.5 665.7h19.3" stroke="#7593cb" stroke-width="1.1" stroke-opacity="0.9"/>
<text class="kai" x="667" y="668.8" font-size="8.6" letter-spacing="0.5" fill="#333">原料药</text>
<path d="M750.2 665.7h19.3" stroke="#C0504D" stroke-width="1.1" stroke-opacity="0.9"/>
<text class="kai" x="772.7" y="668.8" font-size="8.6" letter-spacing="0.5" fill="#333">化学制剂</text>
<path d="M856.2 665.7h19.3" stroke="#9BBB59" stroke-width="1.1" stroke-opacity="0.9"/>
<text class="kai" x="878.7" y="668.8" font-size="8.6" letter-spacing="0.5" fill="#333">中药III</text>
<path d="M962 665.7h19.3" stroke="#8064A2" stroke-width="1.1" stroke-opacity="0.9"/>
<text class="kai" x="984.5" y="668.8" font-size="8.6" letter-spacing="0.5" fill="#333">血液制品</text>
<path d="M644.5 677.4h19.3" stroke="#4BACC6" stroke-width="1.1" stroke-opacity="0.9"/>
<text class="kai" x="667" y="680.5" font-size="8.6" letter-spacing="0.5" fill="#333">疫苗</text>
<path d="M750.2 677.4h19.3" stroke="#F79646" stroke-width="1.1" stroke-opacity="0.9"/>
<text class="kai" x="772.7" y="680.5" font-size="8.6" letter-spacing="0.5" fill="#333">其他生物制品</text>
<path d="M856.2 677.4h19.3" stroke="#2C4D75" stroke-width="1.1" stroke-opacity="0.9"/>
<text class="kai" x="878.7" y="680.5" font-size="8.6" letter-spacing="0.5" fill="#333">医疗设备</text>
<path d="M962 677.4h19.3" stroke="#772C2A" stroke-width="1.1" stroke-opacity="0.9"/>
<text class="kai" x="984.5" y="680.5" font-size="8.6" letter-spacing="0.5" fill="#333">医疗耗材</text>
<path d="M644.5 689.1h19.3" stroke="#5F7530" stroke-width="1.1" stroke-opacity="0.9"/>
<text class="kai" x="667" y="692.2" font-size="8.6" letter-spacing="0.5" fill="#333">体外诊断</text>
<path d="M750.2 689.1h19.3" stroke="#4D3B62" stroke-width="1.1" stroke-opacity="0.9"/>
<text class="kai" x="772.7" y="692.2" font-size="8.6" letter-spacing="0.5" fill="#333">医药流通</text>
<path d="M856.2 689.1h19.3" stroke="#276A7C" stroke-width="1.1" stroke-opacity="0.9"/>
<text class="kai" x="878.7" y="692.2" font-size="8.6" letter-spacing="0.5" fill="#333">线下药店</text>
<path d="M962 689.1h19.3" stroke="#B65708" stroke-width="1.1" stroke-opacity="0.9"/>
<text class="kai" x="984.5" y="692.2" font-size="8.6" letter-spacing="0.5" fill="#333">医疗研发外包</text>
<path d="M644.5 700.8h19.3" stroke="#729ACA" stroke-width="1.1" stroke-opacity="0.9"/>
<text class="kai" x="667" y="703.9" font-size="8.6" letter-spacing="0.5" fill="#333">医院</text>
<path d="M750.2 700.8h19.3" stroke="#000" stroke-width="1.5" stroke-opacity="0.9"/>
<text class="kai" x="772.7" y="703.9" font-size="8.6" letter-spacing="0.5" fill="#333">线性 (中药III)</text>
</g>
<g id="watermark" opacity="0.66" fill="#8a8a8a">
<mask id="wmcut" maskUnits="userSpaceOnUse" x="560" y="680" width="80" height="60"><rect x="560" y="680" width="80" height="60" fill="#fff"/><ellipse cx="603.5" cy="711.9" rx="13.5" ry="10.7" fill="#000"/></mask>
<g mask="url(#wmcut)"><ellipse cx="589.7" cy="701.8" rx="14.7" ry="11.8"/><path d="M583.6 711.5l-2.9 4.6 6.4-2.9z"/></g>
<ellipse cx="603.5" cy="711.9" rx="12.7" ry="9.9"/>
<path d="M607.6 720.6l4.6 3-1.2-4.6z"/>
<g fill="#fff"><circle cx="585.1" cy="698.8" r="1.6"/><circle cx="594.8" cy="698.7" r="1.6"/><circle cx="599.8" cy="708.8" r="1.4"/><circle cx="608.1" cy="708.8" r="1.4"/></g>
<text x="625.6" y="717.6" font-size="29.4" font-weight="500" style="font-family:'Liberation Sans','Noto Sans CJK SC',sans-serif">公众号</text>
<text x="730" y="714" font-size="40" text-anchor="middle">·</text>
<text x="751.2" y="718.5" font-size="31.5" letter-spacing="0.5">xiangyang_medicine</text>
</g>
</svg>
</div>
</body>
</html>
